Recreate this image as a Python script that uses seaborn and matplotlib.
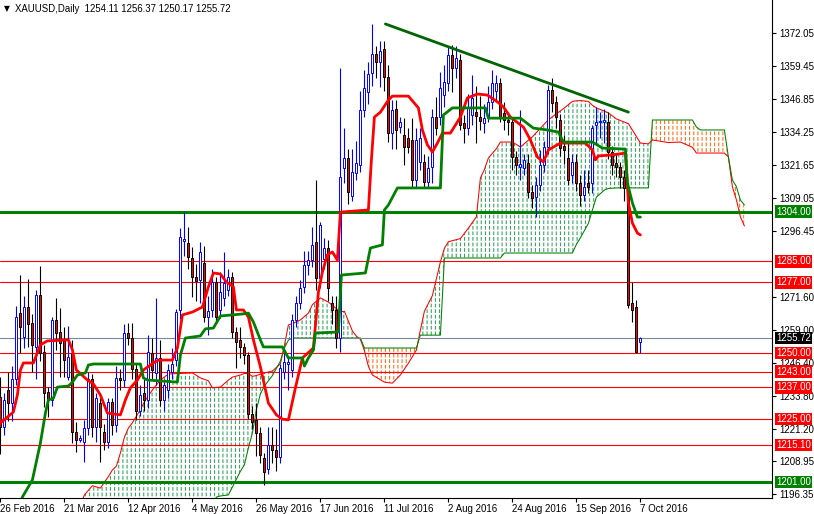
import matplotlib
matplotlib.use("Agg")
import matplotlib.pyplot as plt
import seaborn as sns
import numpy as np

# daily candles, bar 0 = 26 Feb 2016, bar 160 = 7 Oct 2016
opens = [1233.3, 1222.0, 1236.0, 1231.0, 1240.0, 1265.3, 1256.2, 1267.6, 1261.5, 1252.4,
         1272.2, 1250.5, 1235.2, 1232.2, 1262.7, 1258.1, 1255.1, 1240.9, 1250.0, 1220.0,
         1217.0, 1216.0, 1221.5, 1240.0, 1222.0, 1231.0, 1220.0, 1216.0, 1231.4, 1222.6,
         1240.5, 1239.8, 1257.7, 1256.0, 1244.0, 1228.0, 1234.8, 1232.0, 1250.0, 1242.4,
         1248.0, 1232.0, 1236.0, 1242.8, 1247.4, 1266.5, 1292.8, 1292.0, 1286.3, 1279.0,
         1277.9, 1284.4, 1264.0, 1266.5, 1277.0, 1266.5, 1271.0, 1274.0, 1279.0, 1258.0,
         1255.0, 1252.4, 1249.3, 1227.0, 1224.5, 1219.6, 1210.0, 1206.0, 1215.0, 1213.0,
         1210.4, 1242.8, 1246.0, 1243.6, 1262.6, 1269.2, 1275.2, 1283.6, 1285.5, 1292.4,
         1278.7, 1286.0, 1290.0, 1269.2, 1266.5, 1256.0, 1320.6, 1324.4, 1310.0, 1318.7,
         1321.7, 1342.7, 1349.5, 1356.8, 1364.0, 1361.0, 1366.0, 1355.3, 1333.9, 1343.0,
         1336.2, 1333.2, 1332.0, 1331.2, 1316.0, 1322.9, 1322.9, 1315.3, 1321.0, 1340.0,
         1340.0, 1348.4, 1353.0, 1363.6, 1358.7, 1361.7, 1337.7, 1335.8, 1340.8, 1342.0,
         1340.0, 1337.7, 1340.0, 1345.7, 1350.0, 1353.0, 1341.6, 1338.9, 1338.0, 1324.8,
         1321.0, 1320.6, 1322.5, 1311.4, 1309.5, 1314.0, 1321.7, 1328.6, 1350.3, 1345.7,
         1338.9, 1329.0, 1324.4, 1317.9, 1322.9, 1314.9, 1310.3, 1314.9, 1314.9, 1337.0,
         1338.0, 1338.0, 1338.0, 1326.6, 1322.5, 1320.9, 1317.2, 1313.0, 1269.1, 1267.6,
         1254.11]
highs = [1240.9, 1235.0, 1243.0, 1245.0, 1268.0, 1279.8, 1272.0, 1278.3, 1265.0, 1274.0,
         1283.2, 1253.0, 1237.2, 1263.8, 1271.1, 1267.2, 1260.0, 1260.4, 1255.0, 1223.8,
         1219.0, 1224.5, 1243.0, 1242.0, 1235.0, 1233.0, 1223.0, 1233.0, 1233.0, 1245.0,
         1244.0, 1261.0, 1261.5, 1261.5, 1246.0, 1238.0, 1240.0, 1256.9, 1256.0, 1271.0,
         1255.0, 1240.0, 1246.0, 1252.0, 1267.0, 1297.7, 1303.8, 1298.0, 1290.5, 1284.0,
         1292.4, 1291.0, 1272.0, 1282.0, 1279.0, 1281.0, 1288.6, 1282.0, 1281.0, 1260.0,
         1260.0, 1254.0, 1250.5, 1230.0, 1231.0, 1222.0, 1212.0, 1222.0, 1222.0, 1221.0,
         1246.0, 1250.0, 1249.0, 1265.0, 1272.0, 1278.0, 1289.0, 1289.0, 1298.0, 1316.0,
         1300.0, 1294.0, 1293.0, 1272.0, 1272.0, 1358.7, 1335.8, 1328.0, 1328.0, 1331.0,
         1350.0, 1358.0, 1361.0, 1375.5, 1367.0, 1369.0, 1369.0, 1360.0, 1346.5, 1346.5,
         1340.0, 1339.6, 1335.8, 1339.6, 1336.0, 1336.0, 1326.0, 1325.0, 1343.0, 1347.7,
         1357.0, 1360.0, 1366.7, 1367.5, 1367.0, 1364.0, 1340.8, 1348.8, 1356.0, 1352.0,
         1348.0, 1345.0, 1352.0, 1358.0, 1356.0, 1355.0, 1345.7, 1342.0, 1340.0, 1327.0,
         1342.7, 1326.0, 1326.0, 1314.0, 1317.0, 1327.5, 1331.0, 1352.2, 1355.0, 1348.0,
         1341.0, 1333.0, 1330.0, 1326.0, 1326.0, 1318.0, 1320.0, 1320.0, 1337.0, 1344.0,
         1342.0, 1343.0, 1342.0, 1329.0, 1326.0, 1323.0, 1320.0, 1315.0, 1277.1, 1270.3,
         1256.37]
lows = [1211.6, 1219.0, 1224.0, 1224.0, 1238.0, 1250.1, 1252.0, 1252.4, 1242.9, 1240.0,
        1247.0, 1229.5, 1225.7, 1230.0, 1251.2, 1240.9, 1240.9, 1239.8, 1215.8, 1212.4,
        1216.0, 1208.5, 1219.0, 1218.0, 1216.0, 1208.5, 1213.0, 1214.0, 1219.0, 1220.0,
        1236.0, 1237.0, 1253.0, 1240.0, 1224.6, 1226.0, 1228.0, 1229.0, 1240.0, 1238.0,
        1230.0, 1228.0, 1233.0, 1240.0, 1245.0, 1263.0, 1287.0, 1282.0, 1271.4, 1270.0,
        1269.2, 1262.0, 1257.0, 1264.0, 1262.0, 1263.4, 1268.0, 1272.0, 1256.0, 1244.4,
        1248.0, 1246.0, 1225.0, 1221.0, 1211.0, 1208.0, 1199.8, 1204.0, 1208.0, 1205.0,
        1208.0, 1240.0, 1236.0, 1241.0, 1260.0, 1267.0, 1273.0, 1280.0, 1283.0, 1274.0,
        1275.0, 1282.0, 1270.0, 1261.0, 1252.0, 1250.5, 1315.0, 1307.0, 1308.0, 1316.0,
        1319.0, 1340.0, 1345.0, 1352.0, 1355.0, 1351.5, 1350.0, 1330.5, 1328.0, 1328.0,
        1334.0, 1321.7, 1326.3, 1313.0, 1313.0, 1320.0, 1313.0, 1313.0, 1315.0, 1333.0,
        1337.0, 1344.0, 1350.0, 1349.6, 1355.0, 1335.0, 1330.1, 1333.0, 1337.0, 1330.0,
        1335.0, 1334.0, 1338.0, 1343.0, 1346.0, 1338.0, 1335.0, 1333.0, 1320.0, 1317.9,
        1316.0, 1318.0, 1309.0, 1305.4, 1302.0, 1312.0, 1319.0, 1326.0, 1342.0, 1336.0,
        1325.0, 1322.0, 1314.0, 1315.0, 1312.0, 1306.0, 1308.0, 1311.0, 1311.0, 1330.0,
        1332.0, 1330.0, 1324.0, 1318.0, 1317.0, 1313.0, 1308.0, 1267.2, 1261.9, 1250.0,
        1250.17]
closes = [1221.9, 1232.0, 1231.0, 1240.0, 1264.0, 1260.0, 1267.6, 1261.1, 1253.2, 1272.2,
          1250.1, 1234.9, 1232.2, 1262.7, 1257.7, 1253.9, 1247.4, 1248.5, 1220.0, 1217.0,
          1217.8, 1221.5, 1240.0, 1222.0, 1232.9, 1222.0, 1216.0, 1231.4, 1222.6, 1240.5,
          1239.8, 1257.7, 1255.8, 1244.0, 1228.0, 1234.0, 1232.0, 1250.5, 1243.6, 1248.0,
          1232.0, 1237.9, 1243.6, 1246.0, 1265.7, 1294.3, 1293.5, 1286.7, 1279.0, 1277.5,
          1288.6, 1263.8, 1266.0, 1277.0, 1263.8, 1273.3, 1276.7, 1279.0, 1258.0, 1254.3,
          1252.4, 1249.3, 1227.0, 1223.8, 1219.6, 1211.2, 1204.7, 1215.0, 1213.0, 1210.4,
          1244.3, 1246.6, 1246.6, 1262.6, 1269.2, 1274.9, 1283.6, 1285.5, 1291.2, 1278.7,
          1298.9, 1290.0, 1274.9, 1266.5, 1256.0, 1317.0, 1324.4, 1311.4, 1319.0, 1322.5,
          1342.7, 1351.0, 1356.4, 1364.0, 1361.0, 1365.2, 1355.3, 1333.9, 1342.7, 1335.0,
          1338.1, 1328.6, 1328.6, 1316.0, 1331.2, 1332.0, 1315.3, 1320.6, 1340.0, 1335.8,
          1351.0, 1353.4, 1363.6, 1358.7, 1362.5, 1337.0, 1335.8, 1343.8, 1347.2, 1340.5,
          1338.5, 1339.5, 1345.7, 1353.0, 1353.0, 1340.0, 1338.9, 1338.0, 1324.8, 1321.7,
          1322.0, 1323.7, 1311.4, 1309.0, 1314.0, 1321.7, 1328.6, 1350.3, 1345.3, 1340.0,
          1328.2, 1327.5, 1316.0, 1322.9, 1314.9, 1310.3, 1313.4, 1313.4, 1335.8, 1338.0,
          1338.5, 1338.8, 1326.6, 1321.7, 1321.0, 1317.2, 1313.0, 1268.4, 1266.5, 1250.5,
          1255.72]

# Ichimoku lines (bar, price)
tenkan_bars = [0, 3.25, 4.25, 5, 5.75, 8.25, 10, 11.75, 17, 18, 19, 21.75, 23.25, 25, 26.75, 30,
               31.25, 32.5, 34.25, 35.75, 38.25, 39.5, 43, 44.25, 45.5, 48, 50.5, 52, 53.25, 55,
               56.5, 58.25, 59, 60.75, 62, 63.25, 65, 67, 69, 70.5, 72, 73.75, 75.5, 78.25, 79.5,
               80.5, 81.75, 83, 84.25, 85, 92, 92.75, 93.5, 95, 97, 98, 102, 104.5, 105.5, 106.75,
               108, 109.25, 110.5, 112.5, 115, 116.75, 119.25, 121.75, 124.25, 125.75, 127.5,
               130.75, 132.5, 134.25, 135.75, 137, 140, 143, 146.25, 148, 148.75, 149.5, 153,
               156.25, 156.75, 157, 158, 159.25, 160]
tenkan_vals = [1223.4, 1227.6, 1234.1, 1243.6, 1246.3, 1246.3, 1253.2, 1254.7, 1255.1, 1251.3,
               1243.6, 1239.8, 1238.3, 1234.1, 1227.2, 1226.5, 1232.2, 1236.8, 1239.8, 1243.6,
               1246.3, 1247.4, 1247.4, 1252.0, 1264.6, 1265.7, 1267.6, 1275.3, 1280.6, 1280.2,
               1277.2, 1275.3, 1266.5, 1266.5, 1263.8, 1255.1, 1244.8, 1231.0, 1226.5, 1224.9,
               1224.6, 1236.8, 1248.2, 1252.0, 1273.3, 1281.0, 1287.5, 1288.6, 1285.5, 1303.8,
               1304.6, 1323.7, 1340.0, 1341.9, 1346.5, 1348.0, 1348.0, 1343.5, 1335.1, 1329.4,
               1326.7, 1330.1, 1333.9, 1333.9, 1340.0, 1347.3, 1348.8, 1348.4, 1345.8, 1343.9,
               1340.0, 1336.2, 1331.3, 1324.8, 1322.9, 1327.5, 1330.1, 1330.1, 1330.1, 1327.5,
               1323.7, 1325.2, 1325.6, 1326.3, 1314.1, 1307.3, 1299.6, 1295.8, 1295.1]

kijun_bars = [3.75, 5.5, 8, 10, 11.25, 12, 13.25, 14.25, 17, 18, 19.25, 21.25, 22, 23.25, 35,
              35.75, 36.75, 44.25, 45, 46.25, 50, 51.25, 53.25, 55, 60.75, 62, 63.25, 65, 65.75,
              70.5, 72, 75.5, 76, 77, 78.25, 78.75, 84.5, 85.25, 91.25, 92.5, 95.5, 96, 97, 99.25,
              110, 110.75, 113, 121.25, 122, 130, 133.25, 136.75, 139.5, 140.75, 148, 150.5,
              156.25, 156.75, 158, 159.25, 160]
kijun_vals = [1182.6, 1195.2, 1201.7, 1215.8, 1227.2, 1232.2, 1232.9, 1237.1, 1237.5, 1239.0,
              1241.7, 1242.5, 1245.5, 1245.9, 1245.9, 1240.6, 1239.8, 1239.0, 1249.3, 1255.8,
              1256.6, 1259.3, 1259.6, 1264.2, 1265.0, 1265.3, 1261.9, 1255.1, 1252.4, 1252.4,
              1248.2, 1248.2, 1245.1, 1248.2, 1251.2, 1257.7, 1258.1, 1279.8, 1280.6, 1290.1,
              1291.3, 1304.6, 1306.5, 1313.0, 1313.0, 1340.8, 1343.5, 1343.5, 1339.6, 1339.6,
              1335.8, 1335.1, 1334.3, 1330.5, 1330.5, 1328.2, 1327.8, 1314.9, 1307.3, 1301.9,
              1301.9]

cloud_bars = [0, 20, 21, 23, 25, 27, 28, 29, 30, 31, 32, 33, 35, 36, 38, 40, 42, 48, 50, 52, 53,
              54, 55, 57, 58, 59, 60, 61, 62, 63, 64, 65, 66, 68, 70, 71, 72, 73, 75, 77, 78, 80,
              82, 84, 85, 86, 88, 89, 90, 91, 92, 93, 96, 98, 100, 102, 104, 105, 106, 108, 110,
              111, 112, 115, 117, 119, 120, 121, 122, 124, 125, 126, 128, 130, 133, 137, 141, 143,
              144, 145, 147, 148, 149, 151, 152, 154, 157, 158, 160, 162, 163, 167, 170, 173, 174,
              175, 181, 182, 183, 184, 185, 186]
span_a = [1182.0, 1192.0, 1196.0, 1199.5, 1198.6, 1203.0, 1205.5, 1207.0, 1212.0, 1218.0,
          1221.5, 1223.5, 1228.5, 1231.5, 1236.0, 1239.8, 1242.1, 1242.5, 1240.6, 1239.5,
          1236.8, 1237.0, 1237.1, 1239.8, 1240.9, 1241.3, 1241.7, 1242.3, 1242.2, 1241.2,
          1241.5, 1242.0, 1242.5, 1243.2, 1246.0, 1253.0, 1260.8, 1261.3, 1262.7, 1265.3,
          1268.5, 1271.1, 1269.5, 1267.0, 1265.8, 1266.0, 1258.5, 1256.5, 1255.3, 1251.0,
          1245.0, 1241.7, 1239.0, 1238.6, 1241.7, 1246.2, 1251.2, 1258.9, 1266.0, 1272.0,
          1284.8, 1290.0, 1292.5, 1293.7, 1297.7, 1302.0, 1316.8, 1320.0, 1324.4, 1328.0,
          1330.5, 1330.5, 1330.5, 1328.6, 1332.5, 1339.0, 1343.5, 1346.0, 1346.2, 1346.3,
          1346.0, 1344.5, 1343.5, 1342.3, 1341.6, 1339.3, 1337.5, 1335.1, 1330.1, 1329.8,
          1331.3, 1330.3, 1330.5, 1328.5, 1326.3, 1326.3, 1326.3, 1324.8, 1313.4, 1308.5,
          1302.0, 1298.5]
span_b = [1185.0, 1186.0, 1187.0, 1188.0, 1188.0, 1188.0, 1188.0, 1188.0, 1188.0, 1188.0,
          1188.0, 1188.0, 1188.0, 1188.0, 1188.0, 1188.0, 1188.0, 1188.0, 1188.0, 1190.0,
          1192.0, 1195.2, 1195.6, 1196.0, 1199.0, 1202.0, 1205.0, 1207.5, 1213.9, 1219.6,
          1228.5, 1234.5, 1237.5, 1241.5, 1247.0, 1252.0, 1255.0, 1255.8, 1255.8, 1255.8,
          1255.8, 1255.8, 1255.8, 1255.8, 1255.8, 1255.8, 1255.8, 1255.8, 1255.8, 1252.0,
          1252.0, 1252.0, 1252.0, 1252.0, 1252.0, 1252.0, 1252.0, 1256.9, 1256.9, 1256.9,
          1256.9, 1286.3, 1286.3, 1286.3, 1286.3, 1286.3, 1286.3, 1286.3, 1286.3, 1286.3,
          1286.3, 1288.2, 1288.2, 1288.2, 1288.2, 1288.2, 1288.2, 1288.2, 1291.5, 1294.0,
          1299.5, 1304.6, 1309.5, 1312.2, 1312.8, 1313.0, 1313.0, 1313.0, 1313.0, 1313.0,
          1338.9, 1338.9, 1338.9, 1338.9, 1336.2, 1335.1, 1335.1, 1324.8, 1316.0, 1313.5,
          1308.4, 1306.5]

trend_bars = [96.25, 157]
trend_vals = [1375.5, 1341.9]

red_levels = [1285.00, 1277.00, 1250.00, 1243.00, 1237.00, 1225.00, 1215.10]
green_levels = [1304.00, 1201.00]
last_price = 1255.72

price_ticks = [1372.05, 1359.45, 1346.85, 1334.25, 1321.65, 1309.05, 1296.45,
               1271.60, 1259.00, 1246.40, 1233.80, 1221.20, 1208.95, 1196.35]
date_ticks = [0, 16, 32, 48, 64, 80, 96, 112, 128, 144, 160]
date_labels = ["26 Feb 2016", "21 Mar 2016", "12 Apr 2016", "4 May 2016", "26 May 2016",
               "17 Jun 2016", "11 Jul 2016", "2 Aug 2016", "24 Aug 2016", "15 Sep 2016",
               "7 Oct 2016"]

sns.set_style("white")
plt.rcParams['font.family'] = ['Liberation Sans', 'DejaVu Sans']

fig = plt.figure(figsize=(8.14, 5.14), dpi=100)
ax = fig.add_axes([0, 16 / 514, 772 / 814, 498 / 514])

# cloud: dotted vertical hatch, broken into dashes by a white horizontal hatch
ca = np.array(span_a)
cb = np.array(span_b)
with plt.rc_context({'hatch.linewidth': 0.75}):
    ax.fill_between(cloud_bars, span_a, span_b, where=ca >= cb, interpolate=True,
                    facecolor='none', edgecolor='#2e9e5b', hatch='||||', linewidth=0, zorder=1)
    ax.fill_between(cloud_bars, span_a, span_b, where=ca < cb, interpolate=True,
                    facecolor='none', edgecolor='#ff6a10', hatch='||||', linewidth=0, zorder=1)
with plt.rc_context({'hatch.linewidth': 1.3}):
    ax.fill_between(cloud_bars, span_a, span_b, facecolor='none', edgecolor='white',
                    hatch='---', linewidth=0, zorder=1.1)
sns.lineplot(x=cloud_bars, y=span_a, ax=ax, color='red', linewidth=0.75, sort=False,
             estimator=None, zorder=2)
sns.lineplot(x=cloud_bars, y=span_b, ax=ax, color='green', linewidth=0.75, sort=False,
             estimator=None, zorder=2)

# levels
for lv in red_levels:
    ax.axhline(lv, color='red', linewidth=0.8, zorder=2.2)
for lv in green_levels:
    ax.axhline(lv, color='green', linewidth=2.2, zorder=2.2)
ax.axhline(last_price, color='#778899', linewidth=0.8, zorder=2.2)

# candles
o = np.array(opens)
c = np.array(closes)
x = np.arange(len(opens))
up = c >= o
ax.vlines(x[up], np.array(lows)[up], np.array(highs)[up], color='blue', linewidth=0.8, zorder=3)
ax.vlines(x[~up], np.array(lows)[~up], np.array(highs)[~up], color='black', linewidth=0.8, zorder=3)
body = np.maximum(np.abs(c - o), 0.35)
ax.bar(x[up], body[up], bottom=o[up], width=0.5, color='white', edgecolor='blue',
       linewidth=0.7, zorder=3.1)
ax.bar(x[~up], body[~up], bottom=c[~up], width=0.5, color='red', edgecolor='black',
       linewidth=0.7, zorder=3.1)

# tenkan / kijun / trendline
sns.lineplot(x=tenkan_bars, y=tenkan_vals, ax=ax, color='red', linewidth=2.0, sort=False,
             estimator=None, zorder=4)
sns.lineplot(x=kijun_bars, y=kijun_vals, ax=ax, color='green', linewidth=2.0, sort=False,
             estimator=None, zorder=4)
sns.lineplot(x=trend_bars, y=trend_vals, ax=ax, color='#006400', linewidth=2.0, sort=False,
             estimator=None, zorder=4)

ax.set_xlim(-0.1, 192.9)
ax.set_ylim(1194.83, 1384.63)

for s in ['top', 'left']:
    ax.spines[s].set_visible(False)
for s in ['right', 'bottom']:
    ax.spines[s].set_color('black')
    ax.spines[s].set_linewidth(0.8)

ax.yaxis.tick_right()
ax.set_yticks(price_ticks)
ax.set_yticklabels([f"{v:.2f}" for v in price_ticks])
ax.set_xticks(date_ticks)
ax.set_xticklabels(date_labels, ha='left')
ax.tick_params(axis='y', direction='out', length=3, width=0.8, pad=2, labelsize=7,
               colors='black', right=True, left=False)
ax.tick_params(axis='x', direction='out', length=3, width=0.8, pad=1, labelsize=7,
               colors='black', bottom=True)

ytr = ax.get_yaxis_transform()
boxes = [(lv, 'red') for lv in red_levels] + [(lv, 'green') for lv in green_levels] \
    + [(last_price, 'black')]
for lv, col in boxes:
    ax.text(1.005, lv, f"{lv:.2f}", transform=ytr, ha='left', va='center', color='white',
            fontsize=7, zorder=10, clip_on=False,
            bbox=dict(boxstyle='square,pad=0.12', facecolor=col, edgecolor='none'))

fig.text(4 / 814, 1 - 9 / 514, "\u25bc", fontsize=5.5, va='center', ha='left', color='black',
         family='DejaVu Sans')
fig.text(15 / 814, 1 - 9 / 514, "XAUUSD,Daily  1254.11 1256.37 1250.17 1255.72",
         fontsize=6.9, va='center', ha='left', color='black')

fig.savefig("out.png", dpi=100)
